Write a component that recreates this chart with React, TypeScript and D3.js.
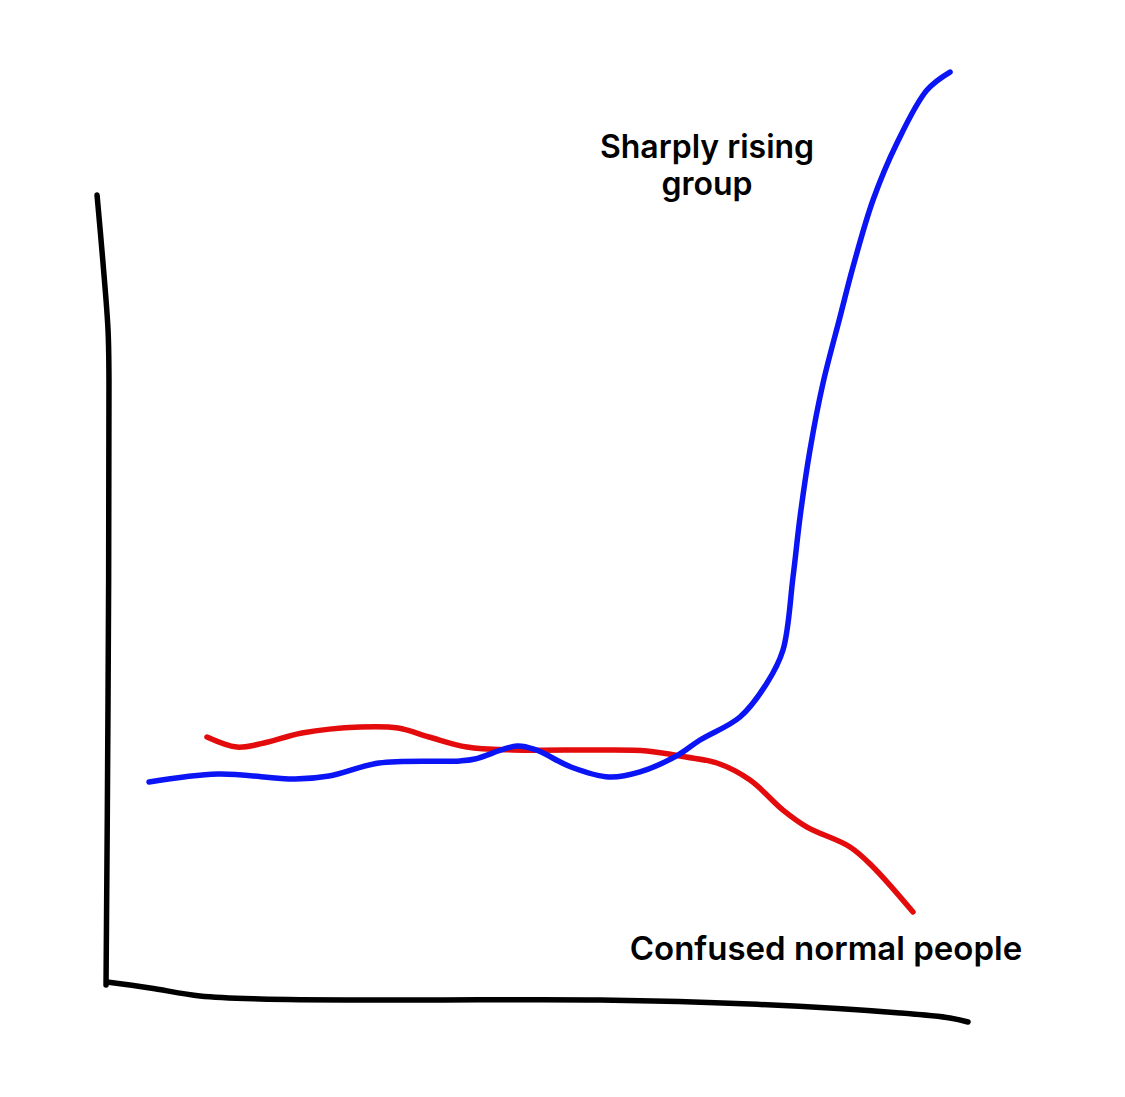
import React from "react";
import * as d3 from "d3";

// Abstract units: x 0–100 (time), y 0–100 (level)
const blueX = [5.09, 13.06, 21.97, 25.9, 31.68, 41.04, 42.77, 47.63, 49.83, 53.87, 58.27, 61.85, 66.24, 68.79, 73.41, 76.53, 78.38, 79.54, 80.35, 81.5, 83.01, 84.97, 86.47, 88.79, 91.56, 95.03, 97.69];
const blueY = [23.19, 24.04, 23.51, 23.83, 25.21, 25.43, 25.64, 27.02, 26.6, 24.79, 23.72, 24.26, 26.06, 27.66, 30.11, 33.72, 37.23, 45.0, 51.38, 58.51, 65.64, 72.66, 77.98, 85.11, 91.17, 96.81, 98.72];

const redX = [11.79, 15.26, 18.38, 22.77, 29.48, 33.87, 37.46, 41.85, 47.17, 57.23, 62.66, 67.17, 70.75, 74.57, 78.38, 81.16, 86.13, 88.79, 93.41];
const redY = [27.98, 26.91, 27.34, 28.4, 29.04, 28.94, 27.98, 26.91, 26.6, 26.6, 26.49, 25.85, 25.21, 23.4, 20.21, 18.4, 16.28, 14.15, 9.36];

// Hand-drawn axes
const yAxisX = [-0.92, -0.23, 0.35, 0.46, 0.35, 0.12];
const yAxisY = [85.64, 78.4, 71.28, 65.96, 31.91, 1.6];
const xAxisX = [0.23, 5.2, 10.98, 17.92, 34.1, 57.23, 74.57, 91.91, 97.69, 99.77];
const xAxisY = [1.91, 1.28, 0.43, 0.11, 0, 0, -0.43, -1.38, -1.91, -2.34];

const blueLabel = ["Sharply rising", "group"];
const redLabel = "Confused normal people";

const W = 1125;
const H = 1097;

export default function App() {
  const x = d3.scaleLinear().domain([0, 100]).range([105, 970]);
  const y = d3.scaleLinear().domain([0, 100]).range([1000, 60]);
  const line = d3
    .line<[number, number]>()
    .x((d) => x(d[0]))
    .y((d) => y(d[1]))
    .curve(d3.curveCatmullRom.alpha(0.5));
  const zip = (a: number[], b: number[]) => a.map((v, i) => [v, b[i]] as [number, number]);

  const font = "Inter, 'Liberation Sans', sans-serif";
  return (
    <svg
      width={W}
      height={H}
      style={{ position: "absolute", left: 0, top: 0, background: "#fff" }}
    >
      <rect width={W} height={H} fill="#fff" />
      <path d={line(zip(yAxisX, yAxisY)) || ""} fill="none" stroke="#000" strokeWidth={5.5} strokeLinecap="round" />
      <path d={line(zip(xAxisX, xAxisY)) || ""} fill="none" stroke="#000" strokeWidth={5.5} strokeLinecap="round" />
      <path d={line(zip(redX, redY)) || ""} fill="none" stroke="#e30b0b" strokeWidth={5.5} strokeLinecap="round" />
      <path d={line(zip(blueX, blueY)) || ""} fill="none" stroke="#0a14f5" strokeWidth={5.5} strokeLinecap="round" />
      <text x={707} y={158} textAnchor="middle" fontFamily={font} fontWeight={600} fontSize={32} fill="#000">
        {blueLabel[0]}
      </text>
      <text x={707} y={195} textAnchor="middle" fontFamily={font} fontWeight={600} fontSize={32} fill="#000">
        {blueLabel[1]}
      </text>
      <text x={826} y={960} textAnchor="middle" fontFamily={font} fontWeight={600} fontSize={33} fill="#000">
        {redLabel}
      </text>
    </svg>
  );
}
